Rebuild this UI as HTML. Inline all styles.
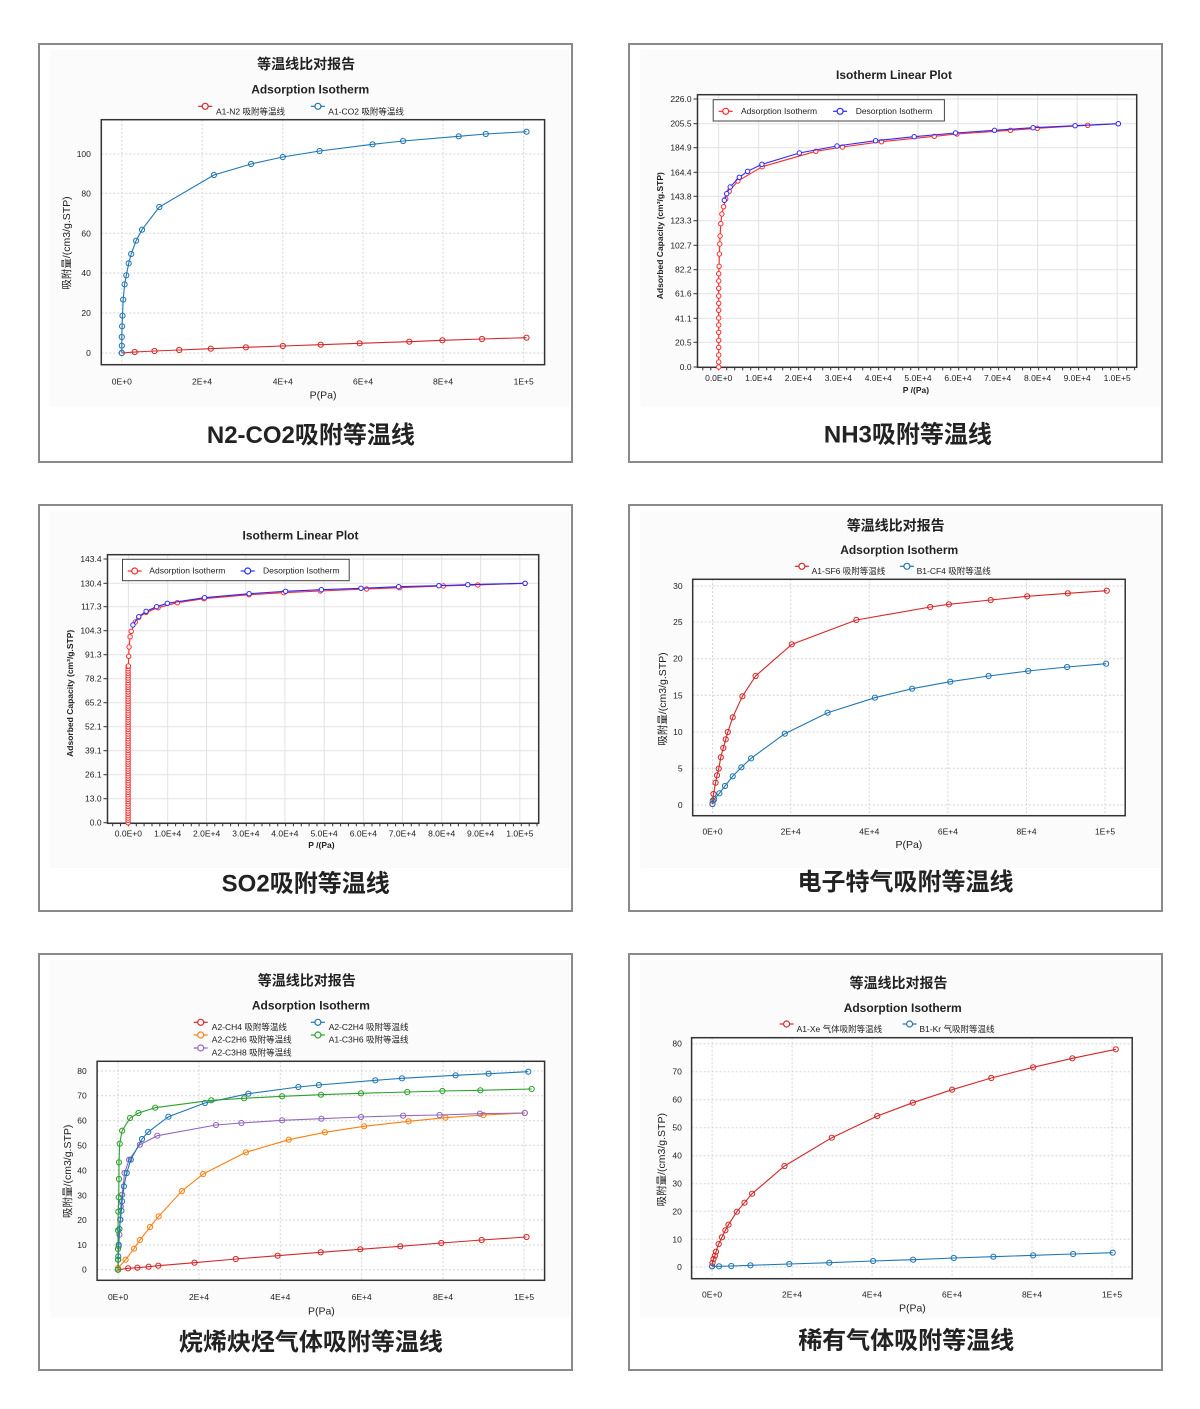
<!DOCTYPE html>
<html><head><meta charset="utf-8"><style>
html,body{margin:0;padding:0;background:#fff;}
svg{display:block;}
text{font-family:"Liberation Sans","Noto Sans CJK SC",sans-serif;fill:#222;}
</style></head><body>
<svg id="s" width="1200" height="1409" xmlns="http://www.w3.org/2000/svg"></svg>
<script>
const S=document.getElementById('s');let h='';
const KX=0.3477,KY=1/3;
function panel(X0,Y0,c){
 const P=(x,y)=>[(X0+x*KX).toFixed(1),(Y0+y*KY).toFixed(1)];
 const [bx,by]=P(35,20),[bx2,by2]=P(1530,1092);
 h+=`<rect x="${bx}" y="${by}" width="${bx2-bx}" height="${by2-by}" fill="#fbfbfb"/>`;
 const [l,t]=P(c.rect[0],c.rect[1]),[r,b]=P(c.rect[2],c.rect[3]);
 h+=`<rect x="${l}" y="${t}" width="${r-l}" height="${b-t}" fill="#fff"/>`;
 const grid=c.solid?'stroke="#e2e2e2" stroke-width="1"':'stroke="#d4d4d4" stroke-width="1" stroke-dasharray="2,2"';
 c.yt.forEach(([lab,zy])=>{const [,y]=P(0,zy);h+=`<line x1="${l}" x2="${r}" y1="${y}" y2="${y}" ${grid}/>`;
  const [tx]=P(c.ylx,0);h+=`<text x="${tx}" y="${(+y+3).toFixed(1)}" font-size="8.5" text-anchor="end">${lab}</text>`;});
 c.xt.forEach(([lab,zx])=>{const [x]=P(zx,0);h+=`<line x1="${x}" x2="${x}" y1="${t}" y2="${b}" ${grid}/>`;
  const [,ty]=P(0,c.xly);h+=`<text x="${x}" y="${ty}" font-size="8.5" text-anchor="middle">${lab}</text>`;});
 if(c.solid){const st=(c.xt[1][1]-c.xt[0][1])/5;for(let zx=c.xt[0][1]-st*2;zx<c.rect[2];zx+=st){if(zx<c.rect[0])continue;const [x]=P(zx,0);h+=`<line x1="${x}" x2="${x}" y1="${b}" y2="${+b+3}" stroke="#333"/>`;}
  c.yt.forEach(([lab,zy])=>{const [,y]=P(0,zy);h+=`<line x1="${l-4}" x2="${l}" y1="${y}" y2="${y}" stroke="#333"/>`;});}
 h+=`<rect x="${l}" y="${t}" width="${r-l}" height="${b-t}" fill="none" stroke="#333" stroke-width="1.5"/>`;
 c.series.forEach(s=>{const pts=s.d.map(p=>P(p[0],p[1]));
  h+=`<polyline points="${pts.map(p=>p.join(',')).join(' ')}" fill="none" stroke="${s.c}" stroke-width="1.1"/>`;
  pts.forEach(p=>h+=`<circle cx="${p[0]}" cy="${p[1]}" r="${s.r||2.6}" fill="${c.solid?'#fff':'none'}" stroke="${s.c}" stroke-width="1"/>`);});
 if(c.t1){const [x,y]=P(c.t1[0],c.t1[1]);h+=`<text x="${x}" y="${y}" font-size="14" font-weight="bold" text-anchor="middle">等温线比对报告</text>`;}
 {const [x,y]=P(c.t2[0],c.t2[1]);h+=`<text x="${x}" y="${y}" font-size="12" font-weight="bold" text-anchor="middle">${c.t2[2]}</text>`;}
 if(c.lbox){const [a,bb]=P(c.lbox[0],c.lbox[1]),[a2,bb2]=P(c.lbox[2],c.lbox[3]);h+=`<rect x="${a}" y="${bb}" width="${a2-a}" height="${bb2-bb}" fill="#fff" stroke="#444" stroke-width="1"/>`;}
 c.leg.forEach(g=>{const [mx,my]=P(g[0],g[1]);const [tx,ty]=P(g[2],g[3]);
  h+=`<line x1="${mx-7}" x2="${+mx+7}" y1="${my}" y2="${my}" stroke="${g[5]}" stroke-width="1.2"/><circle cx="${mx}" cy="${my}" r="3" fill="#fff" stroke="${g[5]}" stroke-width="1.2"/>`;
  h+=`<text x="${tx}" y="${ty}" font-size="${c.lfs||8.5}">${g[4]}</text>`;});
 {const [x,y]=P(c.yl[0],c.yl[1]);h+=`<text transform="translate(${x},${y}) rotate(-90)" font-size="${c.solid?8.5:10.5}" ${c.solid?'font-weight="bold"':''} text-anchor="middle">${c.yl[2]}</text>`;}
 {const [x,y]=P(c.xl[0],c.xl[1]);h+=`<text x="${x}" y="${y}" font-size="${c.solid?8.5:10.5}" ${c.solid?'font-weight="bold"':''} text-anchor="middle">${c.xl[2]}</text>`;}
 {const [x,y]=P(c.big[0],c.big[1]);h+=`<text x="${x}" y="${y}" font-size="24" font-weight="bold" text-anchor="middle">${c.big[2]}</text>`;}
}
const R='#d62728',B='#1f77b4',RR='#ff2a2a',BB='#2a2aff';
const T=(arr,zs)=>arr.map((a,i)=>[a,zs[i]]);
panel(38,43,{rect:[182,230,1457,965],ylx:152,xly:1024,
 yt:T(['0','20','40','60','80','100'],[930,810,690,571,451,333]),
 xt:T(['0E+0','2E+4','4E+4','6E+4','8E+4','1E+5'],[241,472,704,935,1165,1397]),
 series:[{c:R,d:[[241,930],[278,927],[335,924],[406,921],[497,917],[598,913],[704,909],[813,905],[925,901],[1068,896],[1163,892],[1277,888],[1405,884]]},
 {c:B,d:[[241,930],[241,908],[241,882],[242,850],[243,818],[245,770],[249,724],[254,697],[261,661],[268,633],[282,593],[299,560],[349,492],[506,396],[613,363],[704,342],[810,324],[962,304],[1050,294],[1210,280],[1288,273],[1405,266]]}],
 t1:[771,78],t2:[783,152,'Adsorption Isotherm'],
 leg:[[481,190,512,214,'A1-N2 吸附等温线',R],[805,190,835,214,'A1-CO2 吸附等温线',B]],
 yl:[92,600,'吸附量/(cm3/g.STP)'],xl:[820,1066,'P(Pa)'],big:[785,1200,'N2-CO2吸附等温线']});
panel(628,43,{solid:1,rect:[200,155,1463,973],ylx:183,xly:1014,
 yt:T(['226.0','205.5','184.9','164.4','143.8','123.3','102.7','82.2','61.6','41.1','20.5','0.0'],[168,242,314,388,460,533,607,680,752,826,898,972]),
 xt:T(['0.0E+0','1.0E+4','2.0E+4','3.0E+4','4.0E+4','5.0E+4','6.0E+4','7.0E+4','8.0E+4','9.0E+4','1.0E+5'],[261,376,490,605,720,834,949,1063,1178,1292,1407]),
 series:[{c:RR,r:2.2,d:[[261,972],[261,957],[261,936],[261,913],[261,892],[261,868],[261,846],[261,825],[261,802],[261,781],[261,759],[261,736],[261,714],[261,692],[262,670],[263,633],[264,603],[265,579],[267,542],[270,513],[275,491],[281,468],[291,445],[316,414],[386,371],[540,325],[617,312],[729,296],[881,280],[946,273],[1100,262],[1177,256],[1322,247],[1410,242]]},
 {c:BB,r:2.2,d:[[277,472],[284,452],[294,432],[320,403],[344,385],[385,364],[493,330],[601,309],[712,293],[823,281],[942,270],[1054,262],[1165,254],[1286,248],[1410,242]]}],
 t2:[765,108,'Isotherm Linear Plot'],lbox:[245,170,910,234],lfs:8.5,
 leg:[[281,205,325,213,'Adsorption Isotherm',RR],[610,205,655,213,'Desorption Isotherm',BB]],
 yl:[100,578,'Adsorbed Capacity (cm³/g.STP)'],xl:[828,1050,'P /(Pa)'],big:[805,1198,'NH3吸附等温线']});
const so=[];for(let y=956;y>480;y-=7)so.push([259,y]);
panel(38,504,{solid:1,rect:[200,152,1440,958],ylx:183,xly:997,
 yt:T(['143.4','130.4','117.3','104.3','91.3','78.2','65.2','52.1','39.1','26.1','13.0','0.0'],[165,238,308,380,452,524,596,668,740,812,884,956]),
 xt:T(['0.0E+0','1.0E+4','2.0E+4','3.0E+4','4.0E+4','5.0E+4','6.0E+4','7.0E+4','8.0E+4','9.0E+4','1.0E+5'],[260,373,485,598,710,823,936,1048,1161,1273,1386]),
 series:[{c:RR,r:2.2,d:so.concat([[260,486],[261,457],[262,429],[265,398],[268,382],[280,354],[290,340],[311,325],[345,311],[401,296],[477,284],[607,272],[707,266],[812,261],[945,255],[1040,251],[1166,246],[1265,243],[1401,238]])},
 {c:BB,r:2.2,d:[[273,363],[290,338],[311,322],[341,308],[372,298],[479,281],[607,269],[712,262],[815,257],[929,253],[1037,248],[1153,245],[1236,242],[1401,238]]}],
 t2:[755,106,'Isotherm Linear Plot'],lbox:[243,166,895,230],
 leg:[[278,201,320,209,'Adsorption Isotherm',RR],[603,201,647,209,'Desorption Isotherm',BB]],
 yl:[100,568,'Adsorbed Capacity (cm³/g.STP)'],xl:[815,1032,'P /(Pa)'],big:[770,1163,'SO2吸附等温线']});
panel(628,504,{rect:[186,226,1430,935],ylx:157,xly:992,
 yt:T(['0','5','10','15','20','25','30'],[903,793,684,574,464,354,246]),
 xt:T(['0E+0','2E+4','4E+4','6E+4','8E+4','1E+5'],[243,468,694,920,1146,1372]),
 series:[{c:R,d:[[243,900],[244,890],[246,870],[252,836],[256,814],[261,794],[267,760],[274,732],[281,706],[287,684],[301,640],[329,577],[367,516],[471,421],[657,348],[869,309],[923,301],[1043,288],[1148,277],[1265,268],[1377,260]]},
 {c:B,d:[[243,900],[248,886],[263,868],[279,846],[301,817],[326,790],[354,763],[451,689],[574,626],[710,581],[817,554],[927,533],[1037,516],[1151,501],[1263,489],[1375,479]]}],
 t1:[770,79],t2:[780,150,'Adsorption Isotherm'],
 leg:[[500,187,528,210,'A1-SF6 吸附等温线',R],[802,187,830,210,'B1-CF4 吸附等温线',B]],
 yl:[110,585,'吸附量/(cm3/g.STP)'],xl:[808,1032,'P(Pa)'],big:[798,1158,'电子特气吸附等温线']});
panel(38,953,{rect:[170,325,1457,982],ylx:140,xly:1041,
 yt:T(['0','10','20','30','40','50','60','70','80'],[950,876,801,727,652,577,503,428,354]),
 xt:T(['0E+0','2E+4','4E+4','6E+4','8E+4','1E+5'],[230,463,697,931,1165,1398]),
 series:[{c:R,d:[[230,950],[259,946],[286,944],[318,941],[346,938],[450,929],[569,918],[689,908],[813,898],[927,889],[1042,880],[1160,870],[1276,861],[1405,852]]},
 {c:'#ff7f0e',d:[[230,945],[252,920],[276,887],[293,861],[322,822],[347,790],[414,714],[475,663],[598,598],[721,560],[825,538],[938,520],[1066,505],[1172,494],[1281,486],[1400,480]]},
 {c:'#9467bd',d:[[230,950],[231,920],[232,880],[234,845],[236,800],[238,760],[242,725],[249,660],[262,620],[293,575],[343,548],[512,516],[585,510],[702,502],[815,497],[929,492],[1050,488],[1155,486],[1271,482],[1400,480]]},
 {c:B,d:[[230,950],[231,910],[232,875],[234,828],[237,800],[240,773],[242,745],[247,700],[255,660],[267,620],[299,558],[317,537],[375,491],[480,450],[605,422],[749,402],[808,396],[970,382],[1047,376],[1201,367],[1296,362],[1410,356]]},
 {c:'#2ca02c',d:[[230,950],[230,920],[230,888],[230,832],[231,776],[232,733],[233,678],[233,628],[235,572],[242,533],[265,495],[289,480],[337,464],[498,442],[593,436],[702,430],[814,425],[929,421],[1062,417],[1163,414],[1272,412],[1420,408]]}],
 t1:[773,97],t2:[785,170,'Adsorption Isotherm'],
 leg:[[468,208,500,231,'A2-CH4 吸附等温线',R],[805,208,836,231,'A2-C2H4 吸附等温线',B],[468,246,500,269,'A2-C2H6 吸附等温线','#ff7f0e'],[805,246,836,269,'A1-C3H6 吸附等温线','#2ca02c'],[468,285,500,308,'A2-C3H8 吸附等温线','#9467bd']],
 yl:[95,655,'吸附量/(cm3/g.STP)'],xl:[815,1084,'P(Pa)'],big:[785,1191,'烷烯炔烃气体吸附等温线']});
panel(628,953,{rect:[183,254,1450,977],ylx:155,xly:1033,
 yt:T(['0','10','20','30','40','50','60','70','80'],[942,859,775,692,608,524,440,356,272]),
 xt:T(['0E+0','2E+4','4E+4','6E+4','8E+4','1E+5'],[242,472,702,932,1162,1392]),
 series:[{c:R,d:[[242,940],[243,930],[246,918],[250,908],[253,896],[261,873],[270,853],[280,832],[289,815],[313,776],[335,749],[357,722],[450,639],[586,554],[717,489],[819,449],[932,410],[1045,375],[1165,343],[1278,316],[1403,289]]},
 {c:B,d:[[242,940],[262,940],[297,939],[352,937],[464,933],[579,929],[705,924],[820,920],[937,915],[1051,911],[1165,907],[1280,903],[1394,899]]}],
 t1:[778,105],t2:[790,177,'Adsorption Isotherm'],
 leg:[[456,213,485,237,'A1-Xe 气体吸附等温线',R],[810,213,838,237,'B1-Kr 气吸附等温线',B]],
 yl:[107,620,'吸附量/(cm3/g.STP)'],xl:[818,1076,'P(Pa)'],big:[800,1186,'稀有气体吸附等温线']});
[[39,44,533,418],[629,44,533,418],[39,505,533,406],[629,505,533,406],[39,954,533,416],[629,954,533,416]].forEach(b=>h+=`<rect x="${b[0]}" y="${b[1]}" width="${b[2]}" height="${b[3]}" fill="none" stroke="#8a8a8a" stroke-width="2"/>`);
S.innerHTML=h;
</script>
</body></html>
